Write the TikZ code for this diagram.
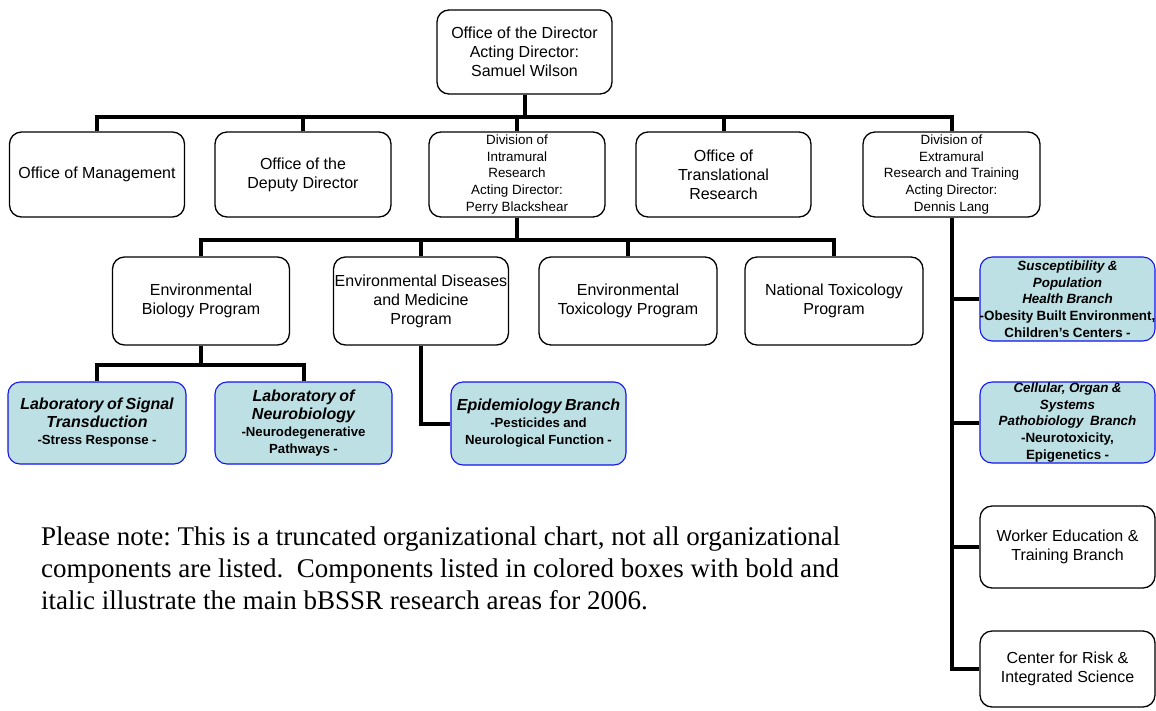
\documentclass[tikz,border=0pt]{standalone}
\usepackage{fontspec}
\setmainfont{Liberation Sans}
\newfontfamily\notefont{Liberation Serif}
\frenchspacing
\definecolor{branchfill}{RGB}{188,224,228}
\definecolor{branchedge}{RGB}{20,20,235}
% font sizes (1 unit = 1pt)
\newcommand\mainsz{\fontsize{16}{19}\selectfont}
\newcommand\divsz{\fontsize{13.4}{16.7}\selectfont}
\newcommand\labtitle{\fontsize{16}{18}\selectfont\bfseries\itshape}
\newcommand\labsub{\fontsize{13.2}{17}\selectfont\bfseries\upshape}
\newcommand\brtitle{\fontsize{13.4}{16.7}\selectfont\bfseries\itshape}
\newcommand\brsub{\fontsize{13.4}{16.7}\selectfont\bfseries\upshape}
% a centred line that may run slightly past the text width
\newcommand\fullline[1]{\makebox[\linewidth][c]{#1}}
\begin{document}
\begin{tikzpicture}[x=1pt,y=-1pt,
  box/.style={draw=black, line width=1.3pt, rounded corners=12pt, fill=white,
    align=center, inner sep=0pt},
  cbox/.style={draw=branchedge, line width=1.1pt, rounded corners=12pt,
    fill=branchfill, align=center, inner sep=0pt, text width=174pt},
  conn/.style={draw=black, line width=4pt, line join=miter},
  notetext/.style={anchor=base west, inner sep=0pt,
    font=\notefont\fontsize{27}{32}\selectfont}]
\useasboundingbox (0,0) rectangle (1156,710);

% bus levels
\coordinate (bus1) at (0,117);
\coordinate (bus2) at (0,240);
\coordinate (bus3) at (0,365);

% director
\node[box, minimum width=175, minimum height=84, font=\mainsz] (dir) at (524.5,52)
  {Office of the Director\\Acting Director:\\Samuel Wilson};

% second level
\node[box, minimum width=175, minimum height=85, font=\mainsz] (mgmt) at (97,174.5)
  {Office of Management};
\node[box, minimum width=176, minimum height=85, font=\mainsz] (deputy) at (303,174.5)
  {Office of the\\Deputy Director};
\node[box, minimum width=176, minimum height=85, font=\divsz] (intra) at (517,174.5)
  {Division of\\Intramural\\Research\\Acting Director:\\Perry Blackshear};
\node[box, minimum width=175, minimum height=85, font=\mainsz] (trans) at (723.5,174.5)
  {Office of\\Translational\\Research};
\node[box, minimum width=177, minimum height=85, font=\divsz] (extra) at (951.5,174.5)
  {Division of\\Extramural\\Research and Training\\Acting Director:\\Dennis Lang};

% intramural programs
\node[box, minimum width=177, minimum height=88, font=\mainsz] (envbio) at (201,301)
  {Environmental\\Biology Program};
\node[box, minimum width=175, minimum height=88, font=\mainsz] (envdis) at (421,301)
  {Environmental Diseases\\and Medicine\\Program};
\node[box, minimum width=178, minimum height=88, font=\mainsz] (envtox) at (628,301)
  {Environmental\\Toxicology Program};
\node[box, minimum width=178, minimum height=88, font=\mainsz] (nattox) at (834,301)
  {National Toxicology\\Program};

% laboratories and branches
\node[cbox, minimum width=178, minimum height=82] (labsig) at (97,423)
  {\labtitle Laboratory of Signal\\Transduction\par\labsub -Stress Response -\par};
\node[cbox, minimum width=177, minimum height=82] (labneu) at (303.5,423)
  {\labtitle Laboratory of\\Neurobiology\par\labsub -Neurodegenerative\\Pathways -\par};
\node[cbox, minimum width=175, minimum height=83] (epi) at (538.5,423.5)
  {\labtitle Epidemiology Branch\par\labsub -Pesticides and\\Neurological Function -\par};

% extramural branches
\node[cbox, minimum width=175, minimum height=84] (susc) at (1067.5,299)
  {\brtitle Susceptibility \&\\Population\\Health Branch\par
   \brsub \fullline{-Obesity Built Environment,}\\Children’s Centers -\par};
\node[cbox, minimum width=175, minimum height=81] (cell) at (1067.5,422.5)
  {\brtitle Cellular, Organ \&\\Systems\\Pathobiology\ \ Branch\par
   \brsub -Neurotoxicity,\\Epigenetics -\par};
\node[box, minimum width=175, minimum height=82, font=\mainsz] (worker) at (1067.5,547)
  {Worker Education \&\\Training Branch};
\node[box, minimum width=175, minimum height=76, font=\mainsz] (center) at (1067.5,669)
  {Center for Risk \&\\Integrated Science};

% connectors
\draw[conn] (dir.south) -- (dir.south |- bus1);
\draw[conn] (mgmt.north) -- (mgmt.north |- bus1) -- (extra.north |- bus1) -- (extra.north);
\foreach \n in {deputy,intra,trans} \draw[conn] (\n.north) -- (\n.north |- bus1);

\draw[conn] (intra.south) -- (intra.south |- bus2);
\draw[conn] (envbio.north) -- (envbio.north |- bus2) -- (nattox.north |- bus2) -- (nattox.north);
\foreach \n in {envdis,envtox} \draw[conn] (\n.north) -- (\n.north |- bus2);

\draw[conn] (envbio.south) -- (envbio.south |- bus3);
\draw[conn] (labsig.north) -- (labsig.north |- bus3) -- (labneu.north |- bus3) -- (labneu.north);
\draw[conn] (envdis.south) |- (epi.west);

\draw[conn] (extra.south) |- (center.west);
\foreach \n in {susc,cell,worker} \draw[conn] (extra.south |- \n.west) -- (\n.west);

% note
\node[notetext] (note1) at (41,545)
  {Please note: This is a truncated organizational chart, not all organizational};
\node[notetext] (note2) at (41,577)
  {components are listed.\ \ Components listed in colored boxes with bold and};
\node[notetext] (note3) at (41,609)
  {italic illustrate the main bBSSR research areas for 2006.};
\end{tikzpicture}
\end{document}
